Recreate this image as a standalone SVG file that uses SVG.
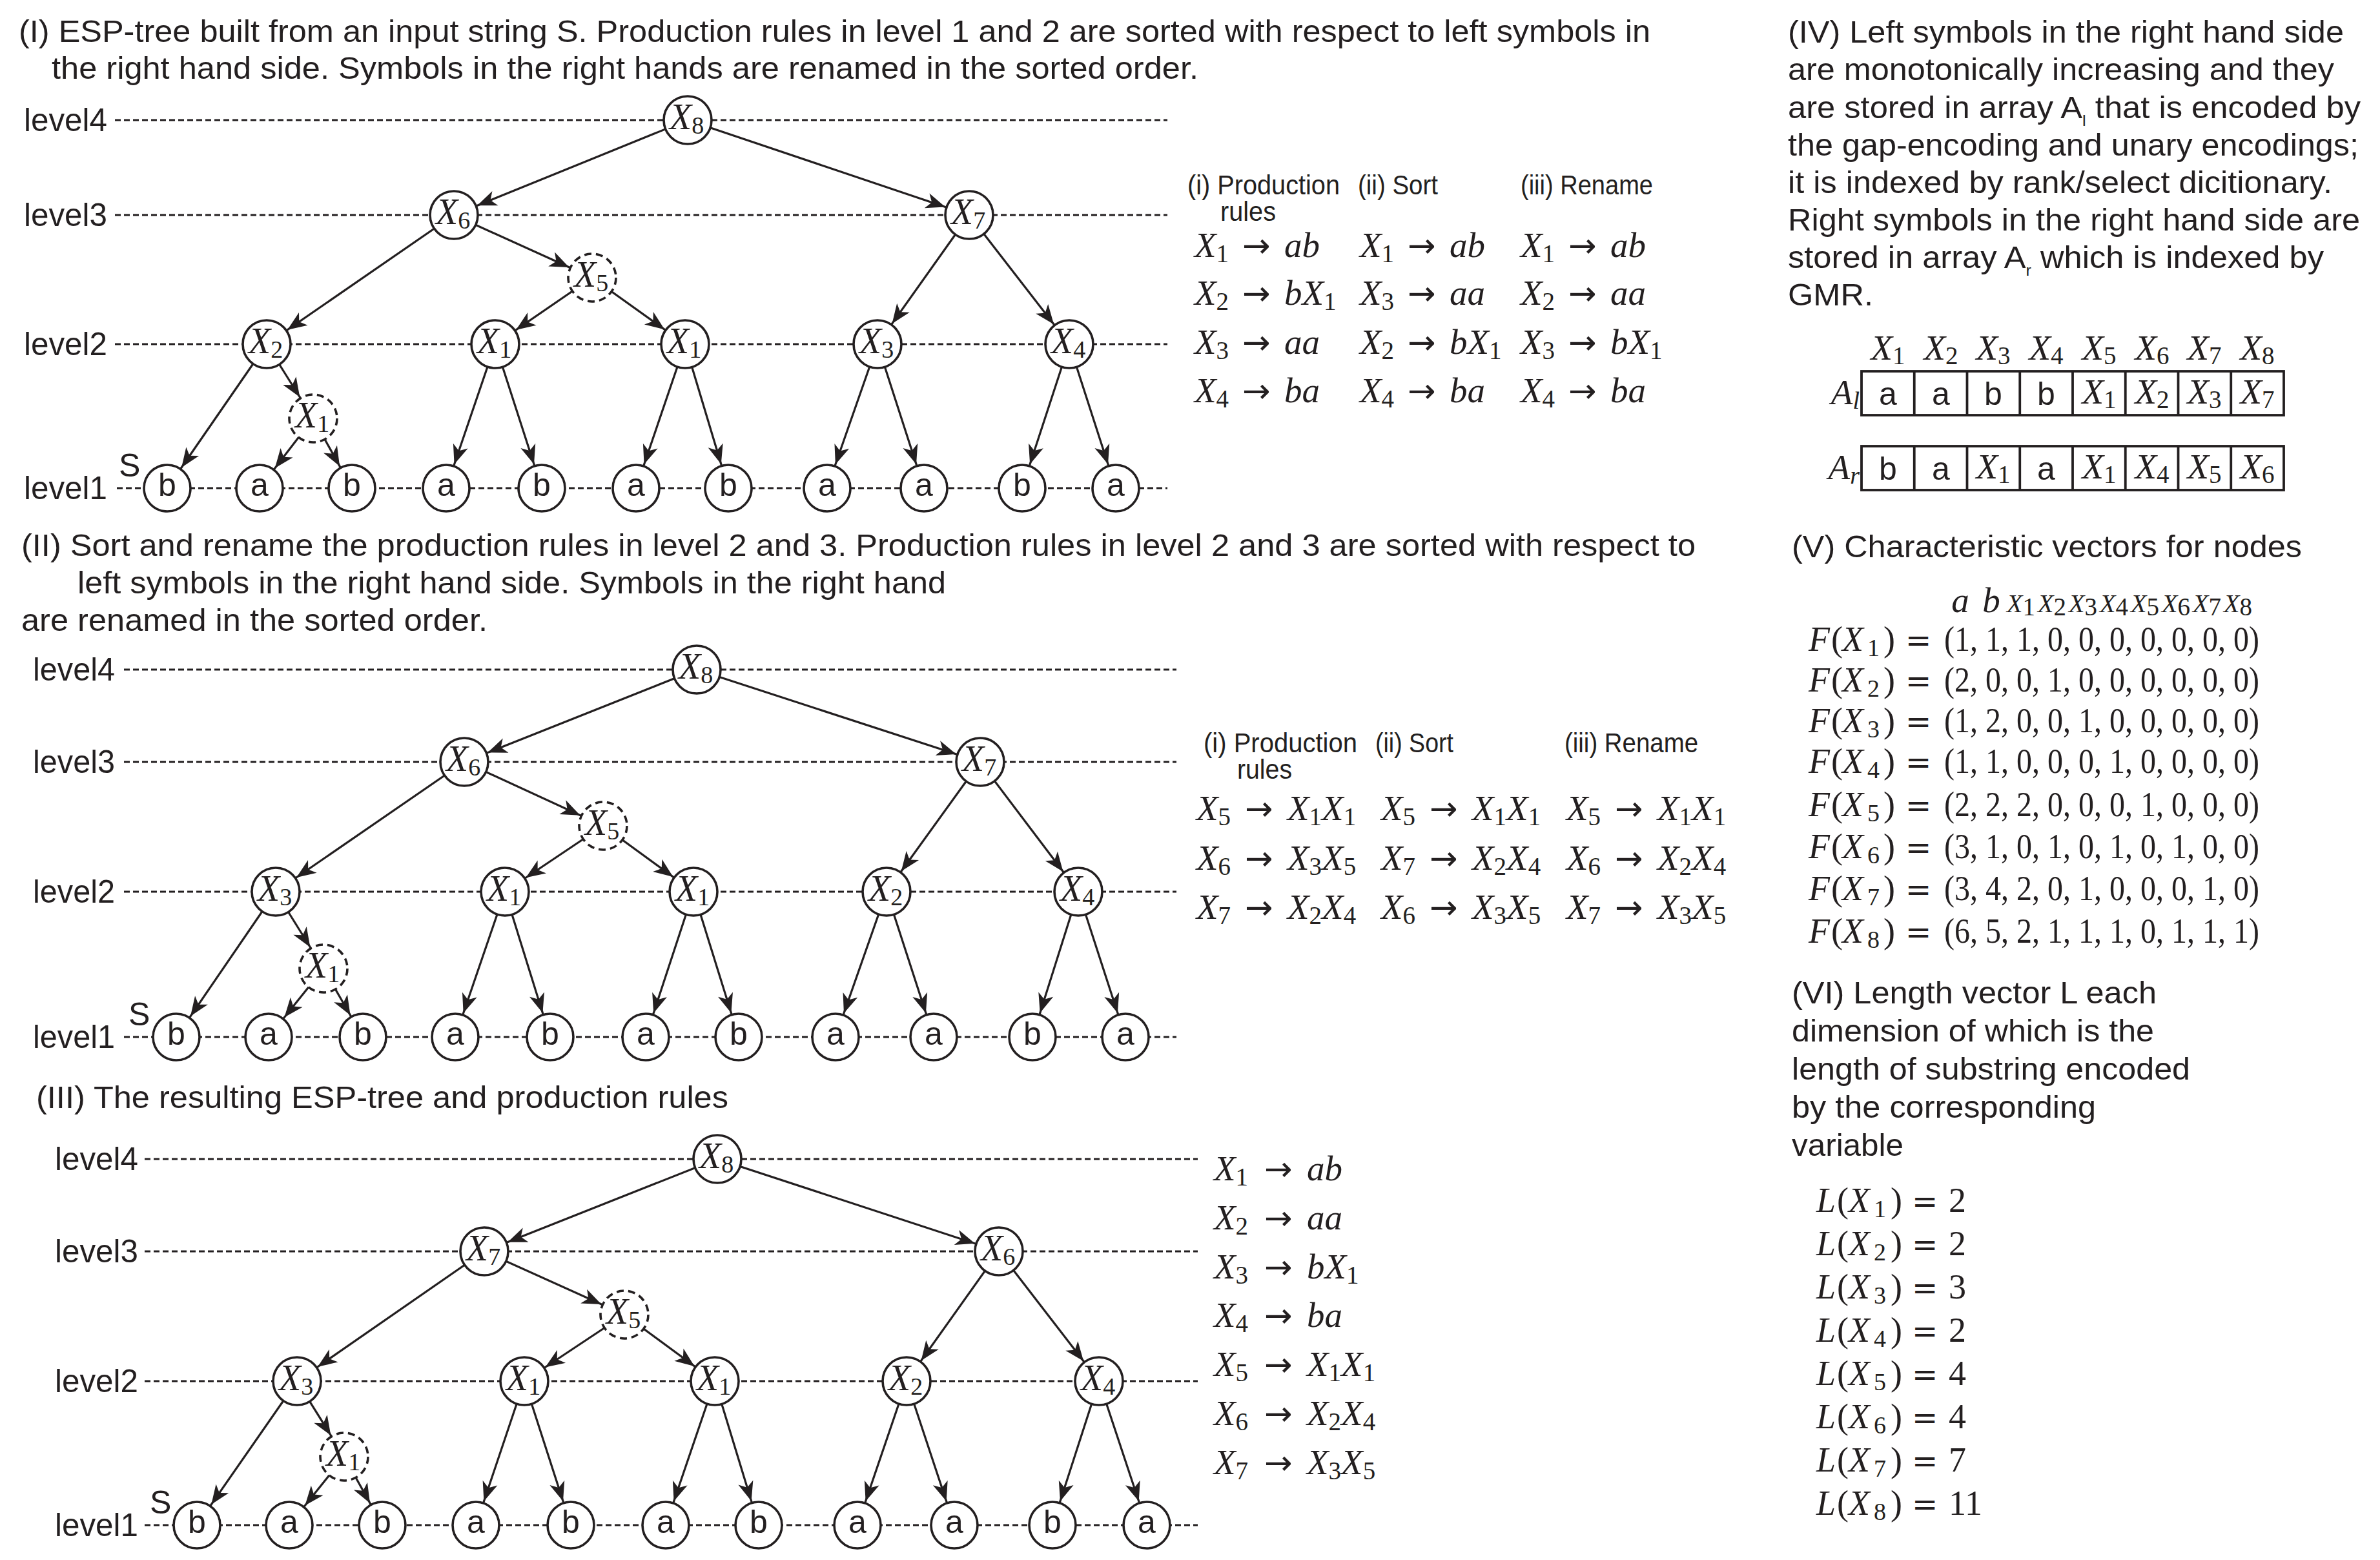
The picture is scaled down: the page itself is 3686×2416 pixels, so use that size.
<svg xmlns="http://www.w3.org/2000/svg" width="3686" height="2416" viewBox="0 0 3686 2416">
<style>
.lv{stroke:#231f20;stroke-width:2.8;stroke-dasharray:9 5;fill:none}
.e{stroke:#231f20;stroke-width:3.2;fill:none;marker-end:url(#ah)}
.c{fill:#fff;stroke:#231f20;stroke-width:3.6}
.cd{fill:#fff;stroke:#231f20;stroke-width:3.6;stroke-dasharray:11 7}
.s{font-family:"Liberation Sans",Arial,Helvetica,sans-serif;fill:#231f20;font-size:48px}
.lb{font-family:"Liberation Sans",Arial,Helvetica,sans-serif;fill:#231f20;font-size:50px}
.h{font-family:"Liberation Sans",Arial,sans-serif;fill:#231f20;font-size:42px}
.nx{font-family:"Liberation Serif","Times New Roman",serif;font-style:italic;font-size:56px;fill:#231f20}
.sb{font-style:normal;font-size:38px}
.nl{font-family:"Liberation Sans",Arial,sans-serif;font-size:50px;fill:#231f20;text-anchor:middle}
.m{font-family:"Liberation Serif","Times New Roman",serif;font-style:italic;font-size:55px;fill:#231f20}
.u{font-family:"DejaVu Sans",sans-serif;font-style:normal;font-size:52px}
.ms{font-style:normal;font-size:39px}
.f{font-family:"Liberation Serif","Times New Roman",serif;font-size:54px;fill:#231f20}
.eq{font-family:"DejaVu Sans",sans-serif;font-size:48px}
.i{font-style:italic}
.box{fill:none;stroke:#231f20;stroke-width:3.8}
</style>
<defs>
<marker id="ah" markerUnits="userSpaceOnUse" viewBox="-34 -14 76 28" refX="39" refY="0" markerWidth="76" markerHeight="28" orient="auto">
<path d="M0,0 L-30,-12 L-22,0 L-30,12 Z" fill="#231f20"/>
</marker>
</defs>
<rect width="3686" height="2416" fill="#fff"/>

<!-- ===== Panel I ===== -->
<g id="p1-title">
<text class="s" x="29" y="65" textLength="2527" lengthAdjust="spacingAndGlyphs">(I) ESP-tree built from an input string S. Production rules in level 1 and 2 are sorted with respect to left symbols in</text>
<text class="s" x="80" y="122" textLength="1776" lengthAdjust="spacingAndGlyphs">the right hand side. Symbols in the right hands are renamed in the sorted order.</text>
</g>
<g id="p1-levels">
<line class="lv" x1="178" y1="186" x2="1808" y2="186"/>
<line class="lv" x1="178" y1="333" x2="1808" y2="333"/>
<line class="lv" x1="178" y1="533" x2="1808" y2="533"/>
<line class="lv" x1="181" y1="756" x2="1808" y2="756"/>
<text class="lb" x="37" y="203" textLength="129" lengthAdjust="spacingAndGlyphs">level4</text>
<text class="lb" x="37" y="350" textLength="129" lengthAdjust="spacingAndGlyphs">level3</text>
<text class="lb" x="37" y="550" textLength="129" lengthAdjust="spacingAndGlyphs">level2</text>
<text class="lb" x="37" y="773" textLength="129" lengthAdjust="spacingAndGlyphs">level1</text>
<text class="lb" x="184" y="738" font-size="44">S</text>
</g>
<g id="p1-edges">
<line class="e" x1="1065" y1="186" x2="703" y2="333"/>
<line class="e" x1="1065" y1="186" x2="1501" y2="333"/>
<line class="e" x1="703" y1="333" x2="413" y2="533"/>
<line class="e" x1="703" y1="333" x2="917" y2="430"/>
<line class="e" x1="917" y1="430" x2="767" y2="533"/>
<line class="e" x1="917" y1="430" x2="1061" y2="533"/>
<line class="e" x1="1501" y1="333" x2="1359" y2="533"/>
<line class="e" x1="1501" y1="333" x2="1656" y2="533"/>
<line class="e" x1="413" y1="533" x2="259" y2="756"/>
<line class="e" x1="413" y1="533" x2="485" y2="648"/>
<line class="e" x1="485" y1="648" x2="402" y2="756"/>
<line class="e" x1="485" y1="648" x2="545" y2="756"/>
<line class="e" x1="767" y1="533" x2="691" y2="756"/>
<line class="e" x1="767" y1="533" x2="839" y2="756"/>
<line class="e" x1="1061" y1="533" x2="985" y2="756"/>
<line class="e" x1="1061" y1="533" x2="1128" y2="756"/>
<line class="e" x1="1359" y1="533" x2="1281" y2="756"/>
<line class="e" x1="1359" y1="533" x2="1431" y2="756"/>
<line class="e" x1="1656" y1="533" x2="1583" y2="756"/>
<line class="e" x1="1656" y1="533" x2="1728" y2="756"/>
</g>
<g id="p1-x8"><circle class="c" cx="1065" cy="186" r="37"/><text class="nx" x="1037" y="200">X<tspan class="sb" dy="7">8</tspan></text></g>
<g id="p1-x6"><circle class="c" cx="703" cy="333" r="37"/><text class="nx" x="675" y="347">X<tspan class="sb" dy="7">6</tspan></text></g>
<g id="p1-x7"><circle class="c" cx="1501" cy="333" r="37"/><text class="nx" x="1473" y="347">X<tspan class="sb" dy="7">7</tspan></text></g>
<g id="p1-x5"><circle class="cd" cx="917" cy="430" r="37"/><text class="nx" x="889" y="444">X<tspan class="sb" dy="7">5</tspan></text></g>
<g id="p1-x2"><circle class="c" cx="413" cy="533" r="37"/><text class="nx" x="385" y="547">X<tspan class="sb" dy="7">2</tspan></text></g>
<g id="p1-x1a"><circle class="c" cx="767" cy="533" r="37"/><text class="nx" x="739" y="547">X<tspan class="sb" dy="7">1</tspan></text></g>
<g id="p1-x1b"><circle class="c" cx="1061" cy="533" r="37"/><text class="nx" x="1033" y="547">X<tspan class="sb" dy="7">1</tspan></text></g>
<g id="p1-x3"><circle class="c" cx="1359" cy="533" r="37"/><text class="nx" x="1331" y="547">X<tspan class="sb" dy="7">3</tspan></text></g>
<g id="p1-x4"><circle class="c" cx="1656" cy="533" r="37"/><text class="nx" x="1628" y="547">X<tspan class="sb" dy="7">4</tspan></text></g>
<g id="p1-x1d"><circle class="cd" cx="485" cy="648" r="37"/><text class="nx" x="457" y="662">X<tspan class="sb" dy="7">1</tspan></text></g>
<g id="p1-s1"><circle class="c" cx="259" cy="756" r="36"/><text class="nl" x="259" y="768">b</text></g>
<g id="p1-s2"><circle class="c" cx="402" cy="756" r="36"/><text class="nl" x="402" y="768">a</text></g>
<g id="p1-s3"><circle class="c" cx="545" cy="756" r="36"/><text class="nl" x="545" y="768">b</text></g>
<g id="p1-s4"><circle class="c" cx="691" cy="756" r="36"/><text class="nl" x="691" y="768">a</text></g>
<g id="p1-s5"><circle class="c" cx="839" cy="756" r="36"/><text class="nl" x="839" y="768">b</text></g>
<g id="p1-s6"><circle class="c" cx="985" cy="756" r="36"/><text class="nl" x="985" y="768">a</text></g>
<g id="p1-s7"><circle class="c" cx="1128" cy="756" r="36"/><text class="nl" x="1128" y="768">b</text></g>
<g id="p1-s8"><circle class="c" cx="1281" cy="756" r="36"/><text class="nl" x="1281" y="768">a</text></g>
<g id="p1-s9"><circle class="c" cx="1431" cy="756" r="36"/><text class="nl" x="1431" y="768">a</text></g>
<g id="p1-s10"><circle class="c" cx="1583" cy="756" r="36"/><text class="nl" x="1583" y="768">b</text></g>
<g id="p1-s11"><circle class="c" cx="1728" cy="756" r="36"/><text class="nl" x="1728" y="768">a</text></g>
<g id="p1-rules">
<text class="h" x="1839" y="301" textLength="236" lengthAdjust="spacingAndGlyphs">(i) Production</text>
<text class="h" x="1890" y="342" textLength="86" lengthAdjust="spacingAndGlyphs">rules</text>
<text class="h" x="2103" y="301" textLength="124" lengthAdjust="spacingAndGlyphs">(ii) Sort</text>
<text class="h" x="2355" y="301" textLength="205" lengthAdjust="spacingAndGlyphs">(iii) Rename</text>
<text class="m" x="1850" y="398">X<tspan class="ms" dy="8">1</tspan><tspan class="u" x="1924" dy="-8">→</tspan><tspan x="1989">ab</tspan></text>
<text class="m" x="1850" y="472">X<tspan class="ms" dy="8">2</tspan><tspan class="u" x="1924" dy="-8">→</tspan><tspan x="1989">bX</tspan><tspan class="ms" dy="8">1</tspan></text>
<text class="m" x="1850" y="548">X<tspan class="ms" dy="8">3</tspan><tspan class="u" x="1924" dy="-8">→</tspan><tspan x="1989">aa</tspan></text>
<text class="m" x="1850" y="623">X<tspan class="ms" dy="8">4</tspan><tspan class="u" x="1924" dy="-8">→</tspan><tspan x="1989">ba</tspan></text>
<text class="m" x="2106" y="398">X<tspan class="ms" dy="8">1</tspan><tspan class="u" x="2180" dy="-8">→</tspan><tspan x="2245">ab</tspan></text>
<text class="m" x="2106" y="472">X<tspan class="ms" dy="8">3</tspan><tspan class="u" x="2180" dy="-8">→</tspan><tspan x="2245">aa</tspan></text>
<text class="m" x="2106" y="548">X<tspan class="ms" dy="8">2</tspan><tspan class="u" x="2180" dy="-8">→</tspan><tspan x="2245">bX</tspan><tspan class="ms" dy="8">1</tspan></text>
<text class="m" x="2106" y="623">X<tspan class="ms" dy="8">4</tspan><tspan class="u" x="2180" dy="-8">→</tspan><tspan x="2245">ba</tspan></text>
<text class="m" x="2355" y="398">X<tspan class="ms" dy="8">1</tspan><tspan class="u" x="2429" dy="-8">→</tspan><tspan x="2494">ab</tspan></text>
<text class="m" x="2355" y="472">X<tspan class="ms" dy="8">2</tspan><tspan class="u" x="2429" dy="-8">→</tspan><tspan x="2494">aa</tspan></text>
<text class="m" x="2355" y="548">X<tspan class="ms" dy="8">3</tspan><tspan class="u" x="2429" dy="-8">→</tspan><tspan x="2494">bX</tspan><tspan class="ms" dy="8">1</tspan></text>
<text class="m" x="2355" y="623">X<tspan class="ms" dy="8">4</tspan><tspan class="u" x="2429" dy="-8">→</tspan><tspan x="2494">ba</tspan></text>
</g>

<!-- ===== Panel II ===== -->
<g id="p2-title">
<text class="s" x="33" y="861" textLength="2593" lengthAdjust="spacingAndGlyphs">(II) Sort and rename the production rules in level 2 and 3. Production rules in level 2 and 3 are sorted with respect to</text>
<text class="s" x="120" y="919" textLength="1345" lengthAdjust="spacingAndGlyphs">left symbols in the right hand side. Symbols in the right hand</text>
<text class="s" x="33" y="977" textLength="722" lengthAdjust="spacingAndGlyphs">are renamed in the sorted order.</text>
</g>
<g id="p2-levels">
<line class="lv" x1="192" y1="1037" x2="1822" y2="1037"/>
<line class="lv" x1="192" y1="1180" x2="1822" y2="1180"/>
<line class="lv" x1="192" y1="1381" x2="1822" y2="1381"/>
<line class="lv" x1="192" y1="1606" x2="1822" y2="1606"/>
<text class="lb" x="51" y="1054" textLength="127" lengthAdjust="spacingAndGlyphs">level4</text>
<text class="lb" x="51" y="1197" textLength="127" lengthAdjust="spacingAndGlyphs">level3</text>
<text class="lb" x="51" y="1398" textLength="127" lengthAdjust="spacingAndGlyphs">level2</text>
<text class="lb" x="51" y="1623" textLength="127" lengthAdjust="spacingAndGlyphs">level1</text>
<text class="lb" x="199" y="1588" font-size="44">S</text>
</g>
<g id="p2-edges">
<line class="e" x1="1079" y1="1037" x2="719" y2="1180"/>
<line class="e" x1="1079" y1="1037" x2="1518" y2="1180"/>
<line class="e" x1="719" y1="1180" x2="427" y2="1381"/>
<line class="e" x1="719" y1="1180" x2="934" y2="1279"/>
<line class="e" x1="934" y1="1279" x2="782" y2="1381"/>
<line class="e" x1="934" y1="1279" x2="1074" y2="1381"/>
<line class="e" x1="1518" y1="1180" x2="1373" y2="1381"/>
<line class="e" x1="1518" y1="1180" x2="1670" y2="1381"/>
<line class="e" x1="427" y1="1381" x2="273" y2="1606"/>
<line class="e" x1="427" y1="1381" x2="501" y2="1500"/>
<line class="e" x1="501" y1="1500" x2="416" y2="1606"/>
<line class="e" x1="501" y1="1500" x2="562" y2="1606"/>
<line class="e" x1="782" y1="1381" x2="705" y2="1606"/>
<line class="e" x1="782" y1="1381" x2="852" y2="1606"/>
<line class="e" x1="1074" y1="1381" x2="1000" y2="1606"/>
<line class="e" x1="1074" y1="1381" x2="1144" y2="1606"/>
<line class="e" x1="1373" y1="1381" x2="1294" y2="1606"/>
<line class="e" x1="1373" y1="1381" x2="1446" y2="1606"/>
<line class="e" x1="1670" y1="1381" x2="1599" y2="1606"/>
<line class="e" x1="1670" y1="1381" x2="1743" y2="1606"/>
</g>
<g id="p2-x8"><circle class="c" cx="1079" cy="1037" r="37"/><text class="nx" x="1051" y="1051">X<tspan class="sb" dy="7">8</tspan></text></g>
<g id="p2-x6"><circle class="c" cx="719" cy="1180" r="37"/><text class="nx" x="691" y="1194">X<tspan class="sb" dy="7">6</tspan></text></g>
<g id="p2-x7"><circle class="c" cx="1518" cy="1180" r="37"/><text class="nx" x="1490" y="1194">X<tspan class="sb" dy="7">7</tspan></text></g>
<g id="p2-x5"><circle class="cd" cx="934" cy="1279" r="37"/><text class="nx" x="906" y="1293">X<tspan class="sb" dy="7">5</tspan></text></g>
<g id="p2-x3"><circle class="c" cx="427" cy="1381" r="37"/><text class="nx" x="399" y="1395">X<tspan class="sb" dy="7">3</tspan></text></g>
<g id="p2-x1a"><circle class="c" cx="782" cy="1381" r="37"/><text class="nx" x="754" y="1395">X<tspan class="sb" dy="7">1</tspan></text></g>
<g id="p2-x1b"><circle class="c" cx="1074" cy="1381" r="37"/><text class="nx" x="1046" y="1395">X<tspan class="sb" dy="7">1</tspan></text></g>
<g id="p2-x2"><circle class="c" cx="1373" cy="1381" r="37"/><text class="nx" x="1345" y="1395">X<tspan class="sb" dy="7">2</tspan></text></g>
<g id="p2-x4"><circle class="c" cx="1670" cy="1381" r="37"/><text class="nx" x="1642" y="1395">X<tspan class="sb" dy="7">4</tspan></text></g>
<g id="p2-x1d"><circle class="cd" cx="501" cy="1500" r="37"/><text class="nx" x="473" y="1514">X<tspan class="sb" dy="7">1</tspan></text></g>
<g id="p2-s1"><circle class="c" cx="273" cy="1606" r="36"/><text class="nl" x="273" y="1618">b</text></g>
<g id="p2-s2"><circle class="c" cx="416" cy="1606" r="36"/><text class="nl" x="416" y="1618">a</text></g>
<g id="p2-s3"><circle class="c" cx="562" cy="1606" r="36"/><text class="nl" x="562" y="1618">b</text></g>
<g id="p2-s4"><circle class="c" cx="705" cy="1606" r="36"/><text class="nl" x="705" y="1618">a</text></g>
<g id="p2-s5"><circle class="c" cx="852" cy="1606" r="36"/><text class="nl" x="852" y="1618">b</text></g>
<g id="p2-s6"><circle class="c" cx="1000" cy="1606" r="36"/><text class="nl" x="1000" y="1618">a</text></g>
<g id="p2-s7"><circle class="c" cx="1144" cy="1606" r="36"/><text class="nl" x="1144" y="1618">b</text></g>
<g id="p2-s8"><circle class="c" cx="1294" cy="1606" r="36"/><text class="nl" x="1294" y="1618">a</text></g>
<g id="p2-s9"><circle class="c" cx="1446" cy="1606" r="36"/><text class="nl" x="1446" y="1618">a</text></g>
<g id="p2-s10"><circle class="c" cx="1599" cy="1606" r="36"/><text class="nl" x="1599" y="1618">b</text></g>
<g id="p2-s11"><circle class="c" cx="1743" cy="1606" r="36"/><text class="nl" x="1743" y="1618">a</text></g>
<g id="p2-rules">
<text class="h" x="1864" y="1165" textLength="238" lengthAdjust="spacingAndGlyphs">(i) Production</text>
<text class="h" x="1916" y="1206" textLength="85" lengthAdjust="spacingAndGlyphs">rules</text>
<text class="h" x="2130" y="1165" textLength="121" lengthAdjust="spacingAndGlyphs">(ii) Sort</text>
<text class="h" x="2423" y="1165" textLength="207" lengthAdjust="spacingAndGlyphs">(iii) Rename</text>
<text class="m" x="1853" y="1270">X<tspan class="ms" dy="8">5</tspan><tspan class="u" x="1928" dy="-8">→</tspan><tspan x="1994">X</tspan><tspan class="ms" dy="8">1</tspan><tspan dy="-8">X</tspan><tspan class="ms" dy="8">1</tspan></text>
<text class="m" x="1853" y="1347">X<tspan class="ms" dy="8">6</tspan><tspan class="u" x="1928" dy="-8">→</tspan><tspan x="1994">X</tspan><tspan class="ms" dy="8">3</tspan><tspan dy="-8">X</tspan><tspan class="ms" dy="8">5</tspan></text>
<text class="m" x="1853" y="1423">X<tspan class="ms" dy="8">7</tspan><tspan class="u" x="1928" dy="-8">→</tspan><tspan x="1994">X</tspan><tspan class="ms" dy="8">2</tspan><tspan dy="-8">X</tspan><tspan class="ms" dy="8">4</tspan></text>
<text class="m" x="2139" y="1270">X<tspan class="ms" dy="8">5</tspan><tspan class="u" x="2214" dy="-8">→</tspan><tspan x="2280">X</tspan><tspan class="ms" dy="8">1</tspan><tspan dy="-8">X</tspan><tspan class="ms" dy="8">1</tspan></text>
<text class="m" x="2139" y="1347">X<tspan class="ms" dy="8">7</tspan><tspan class="u" x="2214" dy="-8">→</tspan><tspan x="2280">X</tspan><tspan class="ms" dy="8">2</tspan><tspan dy="-8">X</tspan><tspan class="ms" dy="8">4</tspan></text>
<text class="m" x="2139" y="1423">X<tspan class="ms" dy="8">6</tspan><tspan class="u" x="2214" dy="-8">→</tspan><tspan x="2280">X</tspan><tspan class="ms" dy="8">3</tspan><tspan dy="-8">X</tspan><tspan class="ms" dy="8">5</tspan></text>
<text class="m" x="2426" y="1270">X<tspan class="ms" dy="8">5</tspan><tspan class="u" x="2501" dy="-8">→</tspan><tspan x="2567">X</tspan><tspan class="ms" dy="8">1</tspan><tspan dy="-8">X</tspan><tspan class="ms" dy="8">1</tspan></text>
<text class="m" x="2426" y="1347">X<tspan class="ms" dy="8">6</tspan><tspan class="u" x="2501" dy="-8">→</tspan><tspan x="2567">X</tspan><tspan class="ms" dy="8">2</tspan><tspan dy="-8">X</tspan><tspan class="ms" dy="8">4</tspan></text>
<text class="m" x="2426" y="1423">X<tspan class="ms" dy="8">7</tspan><tspan class="u" x="2501" dy="-8">→</tspan><tspan x="2567">X</tspan><tspan class="ms" dy="8">3</tspan><tspan dy="-8">X</tspan><tspan class="ms" dy="8">5</tspan></text>
</g>

<!-- ===== Panel III ===== -->
<g id="p3-title">
<text class="s" x="56" y="1716" textLength="1072" lengthAdjust="spacingAndGlyphs">(III) The resulting ESP-tree and production rules</text>
</g>
<g id="p3-levels">
<line class="lv" x1="224" y1="1795" x2="1855" y2="1795"/>
<line class="lv" x1="224" y1="1938" x2="1855" y2="1938"/>
<line class="lv" x1="224" y1="2139" x2="1855" y2="2139"/>
<line class="lv" x1="224" y1="2362" x2="1855" y2="2362"/>
<text class="lb" x="85" y="1812" textLength="129" lengthAdjust="spacingAndGlyphs">level4</text>
<text class="lb" x="85" y="1955" textLength="129" lengthAdjust="spacingAndGlyphs">level3</text>
<text class="lb" x="85" y="2156" textLength="129" lengthAdjust="spacingAndGlyphs">level2</text>
<text class="lb" x="85" y="2379" textLength="129" lengthAdjust="spacingAndGlyphs">level1</text>
<text class="lb" x="232" y="2344" font-size="44">S</text>
</g>
<g id="p3-edges">
<line class="e" x1="1111" y1="1795" x2="750" y2="1938"/>
<line class="e" x1="1111" y1="1795" x2="1547" y2="1938"/>
<line class="e" x1="750" y1="1938" x2="460" y2="2139"/>
<line class="e" x1="750" y1="1938" x2="967" y2="2036"/>
<line class="e" x1="967" y1="2036" x2="812" y2="2139"/>
<line class="e" x1="967" y1="2036" x2="1107" y2="2139"/>
<line class="e" x1="1547" y1="1938" x2="1404" y2="2139"/>
<line class="e" x1="1547" y1="1938" x2="1702" y2="2139"/>
<line class="e" x1="460" y1="2139" x2="305" y2="2362"/>
<line class="e" x1="460" y1="2139" x2="533" y2="2256"/>
<line class="e" x1="533" y1="2256" x2="448" y2="2362"/>
<line class="e" x1="533" y1="2256" x2="592" y2="2362"/>
<line class="e" x1="812" y1="2139" x2="737" y2="2362"/>
<line class="e" x1="812" y1="2139" x2="884" y2="2362"/>
<line class="e" x1="1107" y1="2139" x2="1031" y2="2362"/>
<line class="e" x1="1107" y1="2139" x2="1175" y2="2362"/>
<line class="e" x1="1404" y1="2139" x2="1328" y2="2362"/>
<line class="e" x1="1404" y1="2139" x2="1478" y2="2362"/>
<line class="e" x1="1702" y1="2139" x2="1630" y2="2362"/>
<line class="e" x1="1702" y1="2139" x2="1776" y2="2362"/>
</g>
<g id="p3-x8"><circle class="c" cx="1111" cy="1795" r="37"/><text class="nx" x="1083" y="1809">X<tspan class="sb" dy="7">8</tspan></text></g>
<g id="p3-x7"><circle class="c" cx="750" cy="1938" r="37"/><text class="nx" x="722" y="1952">X<tspan class="sb" dy="7">7</tspan></text></g>
<g id="p3-x6"><circle class="c" cx="1547" cy="1938" r="37"/><text class="nx" x="1519" y="1952">X<tspan class="sb" dy="7">6</tspan></text></g>
<g id="p3-x5"><circle class="cd" cx="967" cy="2036" r="37"/><text class="nx" x="939" y="2050">X<tspan class="sb" dy="7">5</tspan></text></g>
<g id="p3-x3"><circle class="c" cx="460" cy="2139" r="37"/><text class="nx" x="432" y="2153">X<tspan class="sb" dy="7">3</tspan></text></g>
<g id="p3-x1a"><circle class="c" cx="812" cy="2139" r="37"/><text class="nx" x="784" y="2153">X<tspan class="sb" dy="7">1</tspan></text></g>
<g id="p3-x1b"><circle class="c" cx="1107" cy="2139" r="37"/><text class="nx" x="1079" y="2153">X<tspan class="sb" dy="7">1</tspan></text></g>
<g id="p3-x2"><circle class="c" cx="1404" cy="2139" r="37"/><text class="nx" x="1376" y="2153">X<tspan class="sb" dy="7">2</tspan></text></g>
<g id="p3-x4"><circle class="c" cx="1702" cy="2139" r="37"/><text class="nx" x="1674" y="2153">X<tspan class="sb" dy="7">4</tspan></text></g>
<g id="p3-x1d"><circle class="cd" cx="533" cy="2256" r="37"/><text class="nx" x="505" y="2270">X<tspan class="sb" dy="7">1</tspan></text></g>
<g id="p3-s1"><circle class="c" cx="305" cy="2362" r="36"/><text class="nl" x="305" y="2374">b</text></g>
<g id="p3-s2"><circle class="c" cx="448" cy="2362" r="36"/><text class="nl" x="448" y="2374">a</text></g>
<g id="p3-s3"><circle class="c" cx="592" cy="2362" r="36"/><text class="nl" x="592" y="2374">b</text></g>
<g id="p3-s4"><circle class="c" cx="737" cy="2362" r="36"/><text class="nl" x="737" y="2374">a</text></g>
<g id="p3-s5"><circle class="c" cx="884" cy="2362" r="36"/><text class="nl" x="884" y="2374">b</text></g>
<g id="p3-s6"><circle class="c" cx="1031" cy="2362" r="36"/><text class="nl" x="1031" y="2374">a</text></g>
<g id="p3-s7"><circle class="c" cx="1175" cy="2362" r="36"/><text class="nl" x="1175" y="2374">b</text></g>
<g id="p3-s8"><circle class="c" cx="1328" cy="2362" r="36"/><text class="nl" x="1328" y="2374">a</text></g>
<g id="p3-s9"><circle class="c" cx="1478" cy="2362" r="36"/><text class="nl" x="1478" y="2374">a</text></g>
<g id="p3-s10"><circle class="c" cx="1630" cy="2362" r="36"/><text class="nl" x="1630" y="2374">b</text></g>
<g id="p3-s11"><circle class="c" cx="1776" cy="2362" r="36"/><text class="nl" x="1776" y="2374">a</text></g>
<g id="p3-rules">
<text class="m" x="1880" y="1828">X<tspan class="ms" dy="8">1</tspan><tspan class="u" x="1958" dy="-8">→</tspan><tspan x="2024">ab</tspan></text>
<text class="m" x="1880" y="1904">X<tspan class="ms" dy="8">2</tspan><tspan class="u" x="1958" dy="-8">→</tspan><tspan x="2024">aa</tspan></text>
<text class="m" x="1880" y="1980">X<tspan class="ms" dy="8">3</tspan><tspan class="u" x="1958" dy="-8">→</tspan><tspan x="2024">bX</tspan><tspan class="ms" dy="8">1</tspan></text>
<text class="m" x="1880" y="2055">X<tspan class="ms" dy="8">4</tspan><tspan class="u" x="1958" dy="-8">→</tspan><tspan x="2024">ba</tspan></text>
<text class="m" x="1880" y="2131">X<tspan class="ms" dy="8">5</tspan><tspan class="u" x="1958" dy="-8">→</tspan><tspan x="2024">X</tspan><tspan class="ms" dy="8">1</tspan><tspan dy="-8">X</tspan><tspan class="ms" dy="8">1</tspan></text>
<text class="m" x="1880" y="2207">X<tspan class="ms" dy="8">6</tspan><tspan class="u" x="1958" dy="-8">→</tspan><tspan x="2024">X</tspan><tspan class="ms" dy="8">2</tspan><tspan dy="-8">X</tspan><tspan class="ms" dy="8">4</tspan></text>
<text class="m" x="1880" y="2283">X<tspan class="ms" dy="8">7</tspan><tspan class="u" x="1958" dy="-8">→</tspan><tspan x="2024">X</tspan><tspan class="ms" dy="8">3</tspan><tspan dy="-8">X</tspan><tspan class="ms" dy="8">5</tspan></text>
</g>

<!-- ===== Panel IV ===== -->
<g id="p4-text">
<text class="s" x="2769" y="66" textLength="861" lengthAdjust="spacingAndGlyphs">(IV) Left symbols in the right hand side</text>
<text class="s" x="2769" y="124" textLength="846" lengthAdjust="spacingAndGlyphs">are monotonically increasing and they</text>
<text class="s" x="2769" y="183" textLength="887" lengthAdjust="spacingAndGlyphs">are stored in array A<tspan font-size="24" dy="12">l</tspan><tspan dy="-12"> that is encoded by</tspan></text>
<text class="s" x="2769" y="241" textLength="884" lengthAdjust="spacingAndGlyphs">the gap-encoding and unary encodings;</text>
<text class="s" x="2769" y="299" textLength="843" lengthAdjust="spacingAndGlyphs">it is indexed by rank/select dicitionary.</text>
<text class="s" x="2769" y="357" textLength="886" lengthAdjust="spacingAndGlyphs">Right symbols in the right hand side are</text>
<text class="s" x="2769" y="415" textLength="830" lengthAdjust="spacingAndGlyphs">stored in array A<tspan font-size="24" dy="12">r</tspan><tspan dy="-12"> which is indexed by</tspan></text>
<text class="s" x="2769" y="473" textLength="132" lengthAdjust="spacingAndGlyphs">GMR.</text>
</g>
<g id="p4-array-head" class="m" font-size="50" text-anchor="middle">
<text x="2924" y="557">X<tspan class="ms" font-size="36" dy="7">1</tspan></text>
<text x="3006" y="557">X<tspan class="ms" font-size="36" dy="7">2</tspan></text>
<text x="3087" y="557">X<tspan class="ms" font-size="36" dy="7">3</tspan></text>
<text x="3169" y="557">X<tspan class="ms" font-size="36" dy="7">4</tspan></text>
<text x="3251" y="557">X<tspan class="ms" font-size="36" dy="7">5</tspan></text>
<text x="3333" y="557">X<tspan class="ms" font-size="36" dy="7">6</tspan></text>
<text x="3414" y="557">X<tspan class="ms" font-size="36" dy="7">7</tspan></text>
<text x="3496" y="557">X<tspan class="ms" font-size="36" dy="7">8</tspan></text>
</g>
<g id="p4-Al">
<text class="m" x="2880" y="626" text-anchor="end" font-size="52">A<tspan font-size="38" dy="7">l</tspan></text>
<rect class="box" x="2883" y="575" width="654" height="68"/>
<path class="box" d="M2964.75,575V643M3046.5,575V643M3128.25,575V643M3210,575V643M3291.75,575V643M3373.5,575V643M3455.25,575V643"/>
<text class="nl" x="2924" y="627">a</text>
<text class="nl" x="3006" y="627">a</text>
<text class="nl" x="3087" y="627">b</text>
<text class="nl" x="3169" y="627">b</text>
<g class="m" font-size="50" text-anchor="middle">
<text x="3251" y="625">X<tspan class="ms" font-size="36" dy="7">1</tspan></text>
<text x="3333" y="625">X<tspan class="ms" font-size="36" dy="7">2</tspan></text>
<text x="3414" y="625">X<tspan class="ms" font-size="36" dy="7">3</tspan></text>
<text x="3496" y="625">X<tspan class="ms" font-size="36" dy="7">7</tspan></text>
</g>
</g>
<g id="p4-Ar">
<text class="m" x="2880" y="742" text-anchor="end" font-size="52">A<tspan font-size="38" dy="7">r</tspan></text>
<rect class="box" x="2883" y="691" width="654" height="68"/>
<path class="box" d="M2964.75,691V759M3046.5,691V759M3128.25,691V759M3210,691V759M3291.75,691V759M3373.5,691V759M3455.25,691V759"/>
<text class="nl" x="2924" y="743">b</text>
<text class="nl" x="3006" y="743">a</text>
<text class="nl" x="3169" y="743">a</text>
<g class="m" font-size="50" text-anchor="middle">
<text x="3087" y="741">X<tspan class="ms" font-size="36" dy="7">1</tspan></text>
<text x="3251" y="741">X<tspan class="ms" font-size="36" dy="7">1</tspan></text>
<text x="3333" y="741">X<tspan class="ms" font-size="36" dy="7">4</tspan></text>
<text x="3414" y="741">X<tspan class="ms" font-size="36" dy="7">5</tspan></text>
<text x="3496" y="741">X<tspan class="ms" font-size="36" dy="7">6</tspan></text>
</g>
</g>

<!-- ===== Panel V ===== -->
<g id="p5">
<text class="s" x="2775" y="863" textLength="790" lengthAdjust="spacingAndGlyphs">(V) Characteristic vectors for nodes</text>
<g class="m" font-size="42" text-anchor="middle">
<text x="3036" y="948">a</text>
<text x="3084" y="948">b</text>
<text x="3130" y="948" font-size="40">X<tspan class="ms" font-size="28" dy="5">1</tspan></text>
<text x="3178" y="948" font-size="40">X<tspan class="ms" font-size="28" dy="5">2</tspan></text>
<text x="3226" y="948" font-size="40">X<tspan class="ms" font-size="28" dy="5">3</tspan></text>
<text x="3274" y="948" font-size="40">X<tspan class="ms" font-size="28" dy="5">4</tspan></text>
<text x="3322" y="948" font-size="40">X<tspan class="ms" font-size="28" dy="5">5</tspan></text>
<text x="3370" y="948" font-size="40">X<tspan class="ms" font-size="28" dy="5">6</tspan></text>
<text x="3418" y="948" font-size="40">X<tspan class="ms" font-size="28" dy="5">7</tspan></text>
<text x="3466" y="948" font-size="40">X<tspan class="ms" font-size="28" dy="5">8</tspan></text>
</g>
<text class="f" y="1008"><tspan class="i" x="2801">F</tspan><tspan x="2836">(</tspan><tspan class="i" x="2853">X</tspan><tspan x="2892" dy="8" font-size="38">1</tspan><tspan x="2917" dy="-8">)</tspan><tspan class="eq" x="2951">=</tspan></text>
<text class="f" x="3011" y="1008" textLength="488" lengthAdjust="spacingAndGlyphs">(1, 1, 1, 0, 0, 0, 0, 0, 0, 0)</text>
<text class="f" y="1071"><tspan class="i" x="2801">F</tspan><tspan x="2836">(</tspan><tspan class="i" x="2853">X</tspan><tspan x="2892" dy="8" font-size="38">2</tspan><tspan x="2917" dy="-8">)</tspan><tspan class="eq" x="2951">=</tspan></text>
<text class="f" x="3011" y="1071" textLength="488" lengthAdjust="spacingAndGlyphs">(2, 0, 0, 1, 0, 0, 0, 0, 0, 0)</text>
<text class="f" y="1134"><tspan class="i" x="2801">F</tspan><tspan x="2836">(</tspan><tspan class="i" x="2853">X</tspan><tspan x="2892" dy="8" font-size="38">3</tspan><tspan x="2917" dy="-8">)</tspan><tspan class="eq" x="2951">=</tspan></text>
<text class="f" x="3011" y="1134" textLength="488" lengthAdjust="spacingAndGlyphs">(1, 2, 0, 0, 1, 0, 0, 0, 0, 0)</text>
<text class="f" y="1197"><tspan class="i" x="2801">F</tspan><tspan x="2836">(</tspan><tspan class="i" x="2853">X</tspan><tspan x="2892" dy="8" font-size="38">4</tspan><tspan x="2917" dy="-8">)</tspan><tspan class="eq" x="2951">=</tspan></text>
<text class="f" x="3011" y="1197" textLength="488" lengthAdjust="spacingAndGlyphs">(1, 1, 0, 0, 0, 1, 0, 0, 0, 0)</text>
<text class="f" y="1264"><tspan class="i" x="2801">F</tspan><tspan x="2836">(</tspan><tspan class="i" x="2853">X</tspan><tspan x="2892" dy="8" font-size="38">5</tspan><tspan x="2917" dy="-8">)</tspan><tspan class="eq" x="2951">=</tspan></text>
<text class="f" x="3011" y="1264" textLength="488" lengthAdjust="spacingAndGlyphs">(2, 2, 2, 0, 0, 0, 1, 0, 0, 0)</text>
<text class="f" y="1329"><tspan class="i" x="2801">F</tspan><tspan x="2836">(</tspan><tspan class="i" x="2853">X</tspan><tspan x="2892" dy="8" font-size="38">6</tspan><tspan x="2917" dy="-8">)</tspan><tspan class="eq" x="2951">=</tspan></text>
<text class="f" x="3011" y="1329" textLength="488" lengthAdjust="spacingAndGlyphs">(3, 1, 0, 1, 0, 1, 0, 1, 0, 0)</text>
<text class="f" y="1394"><tspan class="i" x="2801">F</tspan><tspan x="2836">(</tspan><tspan class="i" x="2853">X</tspan><tspan x="2892" dy="8" font-size="38">7</tspan><tspan x="2917" dy="-8">)</tspan><tspan class="eq" x="2951">=</tspan></text>
<text class="f" x="3011" y="1394" textLength="488" lengthAdjust="spacingAndGlyphs">(3, 4, 2, 0, 1, 0, 0, 0, 1, 0)</text>
<text class="f" y="1460"><tspan class="i" x="2801">F</tspan><tspan x="2836">(</tspan><tspan class="i" x="2853">X</tspan><tspan x="2892" dy="8" font-size="38">8</tspan><tspan x="2917" dy="-8">)</tspan><tspan class="eq" x="2951">=</tspan></text>
<text class="f" x="3011" y="1460" textLength="488" lengthAdjust="spacingAndGlyphs">(6, 5, 2, 1, 1, 1, 0, 1, 1, 1)</text>
</g>

<!-- ===== Panel VI ===== -->
<g id="p6">
<text class="s" x="2775" y="1554" textLength="565" lengthAdjust="spacingAndGlyphs">(VI) Length vector L each</text>
<text class="s" x="2775" y="1613" textLength="561" lengthAdjust="spacingAndGlyphs">dimension of which is the</text>
<text class="s" x="2775" y="1672" textLength="617" lengthAdjust="spacingAndGlyphs">length of substring encoded</text>
<text class="s" x="2775" y="1731" textLength="471" lengthAdjust="spacingAndGlyphs">by the corresponding</text>
<text class="s" x="2775" y="1790" textLength="173" lengthAdjust="spacingAndGlyphs">variable</text>
<text class="f" y="1877"><tspan class="i" x="2813">L</tspan><tspan x="2845">(</tspan><tspan class="i" x="2863">X</tspan><tspan x="2902" dy="8" font-size="38">1</tspan><tspan x="2928" dy="-8">)</tspan><tspan class="eq" x="2961">=</tspan><tspan x="3018">2</tspan></text>
<text class="f" y="1944"><tspan class="i" x="2813">L</tspan><tspan x="2845">(</tspan><tspan class="i" x="2863">X</tspan><tspan x="2902" dy="8" font-size="38">2</tspan><tspan x="2928" dy="-8">)</tspan><tspan class="eq" x="2961">=</tspan><tspan x="3018">2</tspan></text>
<text class="f" y="2011"><tspan class="i" x="2813">L</tspan><tspan x="2845">(</tspan><tspan class="i" x="2863">X</tspan><tspan x="2902" dy="8" font-size="38">3</tspan><tspan x="2928" dy="-8">)</tspan><tspan class="eq" x="2961">=</tspan><tspan x="3018">3</tspan></text>
<text class="f" y="2078"><tspan class="i" x="2813">L</tspan><tspan x="2845">(</tspan><tspan class="i" x="2863">X</tspan><tspan x="2902" dy="8" font-size="38">4</tspan><tspan x="2928" dy="-8">)</tspan><tspan class="eq" x="2961">=</tspan><tspan x="3018">2</tspan></text>
<text class="f" y="2145"><tspan class="i" x="2813">L</tspan><tspan x="2845">(</tspan><tspan class="i" x="2863">X</tspan><tspan x="2902" dy="8" font-size="38">5</tspan><tspan x="2928" dy="-8">)</tspan><tspan class="eq" x="2961">=</tspan><tspan x="3018">4</tspan></text>
<text class="f" y="2212"><tspan class="i" x="2813">L</tspan><tspan x="2845">(</tspan><tspan class="i" x="2863">X</tspan><tspan x="2902" dy="8" font-size="38">6</tspan><tspan x="2928" dy="-8">)</tspan><tspan class="eq" x="2961">=</tspan><tspan x="3018">4</tspan></text>
<text class="f" y="2279"><tspan class="i" x="2813">L</tspan><tspan x="2845">(</tspan><tspan class="i" x="2863">X</tspan><tspan x="2902" dy="8" font-size="38">7</tspan><tspan x="2928" dy="-8">)</tspan><tspan class="eq" x="2961">=</tspan><tspan x="3018">7</tspan></text>
<text class="f" y="2346"><tspan class="i" x="2813">L</tspan><tspan x="2845">(</tspan><tspan class="i" x="2863">X</tspan><tspan x="2902" dy="8" font-size="38">8</tspan><tspan x="2928" dy="-8">)</tspan><tspan class="eq" x="2961">=</tspan><tspan x="3018">11</tspan></text>
</g>
</svg>
